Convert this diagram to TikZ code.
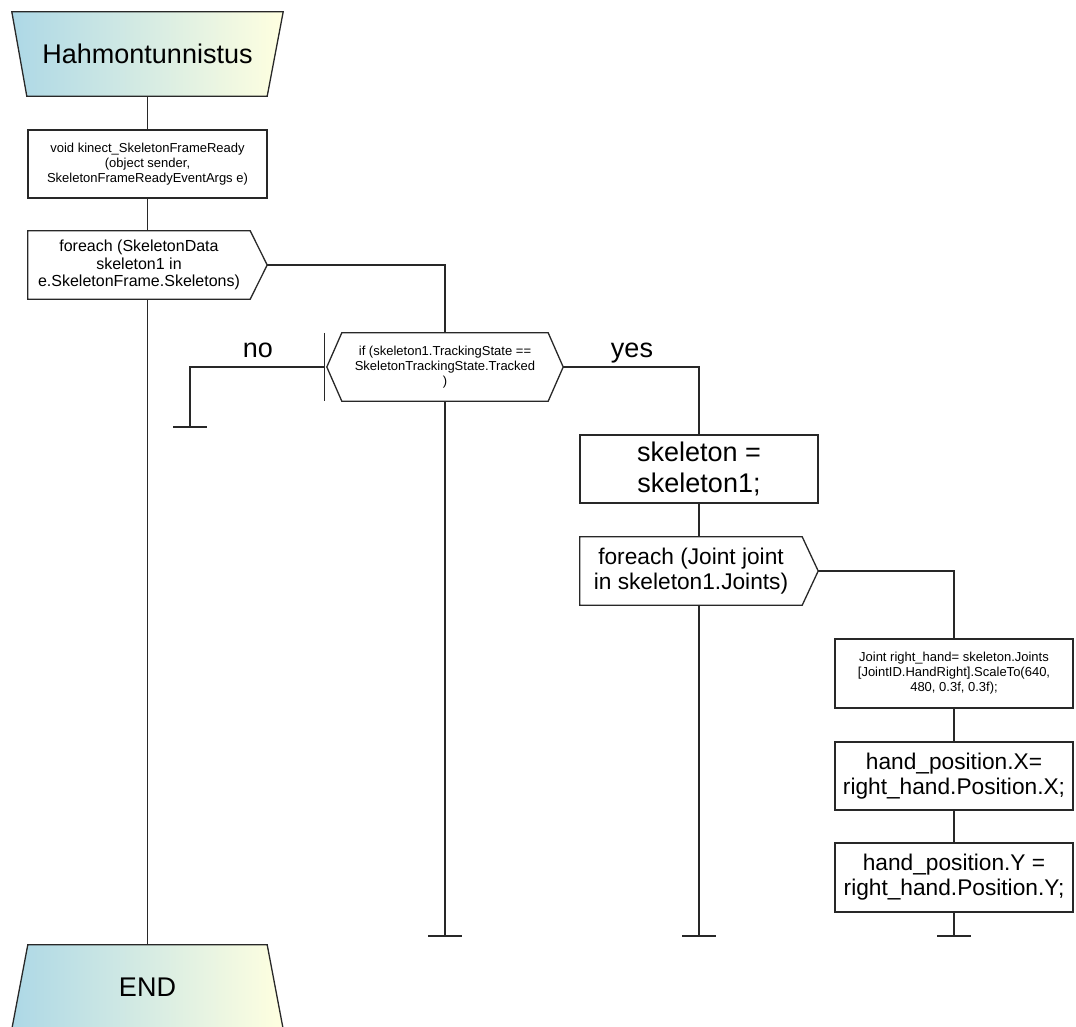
\documentclass[tikz,border=0pt]{standalone}
\usepackage{fontspec}
\setmainfont{Liberation Sans}
\usetikzlibrary{backgrounds}
\definecolor{lb}{RGB}{173,216,230}
\definecolor{ly}{RGB}{255,255,224}
\definecolor{lc}{RGB}{40,40,40}
\tikzset{
  box/.style={draw=lc, line width=1.3pt, fill=white, minimum height=68pt, inner sep=0pt, align=center},
  body/.style={inner sep=0pt, minimum height=68pt, align=center},
  big/.style={font=\fontsize{27}{31}\selectfont},
  mid/.style={font=\fontsize{22.7}{25}\selectfont},
  med/.style={font=\fontsize{16}{17.5}\selectfont},
  small/.style={font=\fontsize{13}{15}\selectfont},
  conn/.style={draw=lc, line width=1.3pt},
  outline/.style={draw=lc, line width=1.3pt, fill=white},
  grad/.style={draw=lc, line width=1.3pt, left color=lb, right color=ly},
}
\begin{document}
\begin{tikzpicture}[x=1pt,y=-1pt]
\useasboundingbox (0,0) rectangle (1076,1027);

% nodes
\node[body,big,minimum width=271pt,minimum height=84pt] (start) at (147.5,54) {Hahmontunnistus};
\node[box,small,minimum width=239pt] (b1) at (147.5,164) {void kinect\_SkeletonFrameReady\\(object sender,\\SkeletonFrameReadyEventArgs e)};
\node[body,med,minimum width=222pt] (f1) at (139,265) {foreach (SkeletonData\\skeleton1 in\\e.SkeletonFrame.Skeletons)};
\node[body,small,minimum width=206pt] (if) at (445,367) {if (skeleton1.TrackingState ==\\SkeletonTrackingState.Tracked\\)};
\node[big,anchor=base] (nolab) at (258,357) {no};
\node[big,anchor=base] (yeslab) at (632,357) {yes};
\node[box,big,minimum width=238pt] (s1) at (699,469) {skeleton =\\skeleton1;};
\node[body,mid,minimum width=222pt] (f2) at (691,571) {foreach (Joint joint\\in skeleton1.Joints)};
\node[box,small,minimum width=238pt,minimum height=69pt] (j1) at (954,673.5) {Joint right\_hand= skeleton.Joints\\{[}JointID.HandRight{]}.ScaleTo(640,\\480, 0.3f, 0.3f);};
\node[box,mid,minimum width=238pt] (hx) at (954,776) {hand\_position.X=\\right\_hand.Position.X;};
\node[box,mid,minimum width=238pt,minimum height=69pt] (hy) at (954,877.5) {hand\_position.Y =\\right\_hand.Position.Y;};
\node[body,big,minimum width=271pt,minimum height=84pt] (end) at (147.5,987) {END};

\coordinate (noend) at (190,427);
\coordinate (e1) at (445,936);
\coordinate (e2) at (699,936);
\coordinate (e3) at (954,936);

% shapes
\begin{scope}[on background layer]
\fill[white] (0,0) rectangle (1076,1027);
\draw[grad] (start.north west) -- (start.north east) -- ([xshift=-16pt]start.south east) -- ([xshift=15pt]start.south west) -- cycle;
\draw[grad] ([xshift=16pt]end.north west) -- ([xshift=-16pt]end.north east) -- (end.south east) -- (end.south west) -- cycle;
\draw[outline] (f1.north west) -- (f1.north east) -- ([xshift=17pt]f1.east) -- (f1.south east) -- (f1.south west) -- cycle;
\draw[outline] (if.north west) -- (if.north east) -- ([xshift=15pt]if.east) -- (if.south east) -- (if.south west) -- ([xshift=-15pt]if.west) -- cycle;
\draw[outline] (f2.north west) -- (f2.north east) -- ([xshift=16pt]f2.east) -- (f2.south east) -- (f2.south west) -- cycle;
\end{scope}

% connectors
\draw[conn] (start.south) -- (b1.north);
\draw[conn] (b1.south) -- (b1.south |- f1.north);
\draw[conn] (b1.south |- f1.south) -- (end.north);
\draw[conn] ([xshift=17pt]f1.east) -| (if.north);
\draw[conn] ([xshift=-17pt]if.north west) -- ([xshift=-17pt]if.south west);
\draw[conn] ([xshift=-17pt]if.west) -| (noend);
\draw[conn] ([xshift=-17pt]noend) -- ([xshift=17pt]noend);
\draw[conn] ([xshift=15pt]if.east) -| (s1.north);
\draw[conn] (if.south) -- (e1);
\draw[conn] ([xshift=-17pt]e1) -- ([xshift=17pt]e1);
\draw[conn] (s1.south) -- (s1.south |- f2.north);
\draw[conn] (s1.south |- f2.south) -- (e2);
\draw[conn] ([xshift=-17pt]e2) -- ([xshift=17pt]e2);
\draw[conn] ([xshift=16pt]f2.east) -| (j1.north);
\draw[conn] (j1.south) -- (hx.north);
\draw[conn] (hx.south) -- (hy.north);
\draw[conn] (hy.south) -- (e3);
\draw[conn] ([xshift=-17pt]e3) -- ([xshift=17pt]e3);
\end{tikzpicture}
\end{document}
